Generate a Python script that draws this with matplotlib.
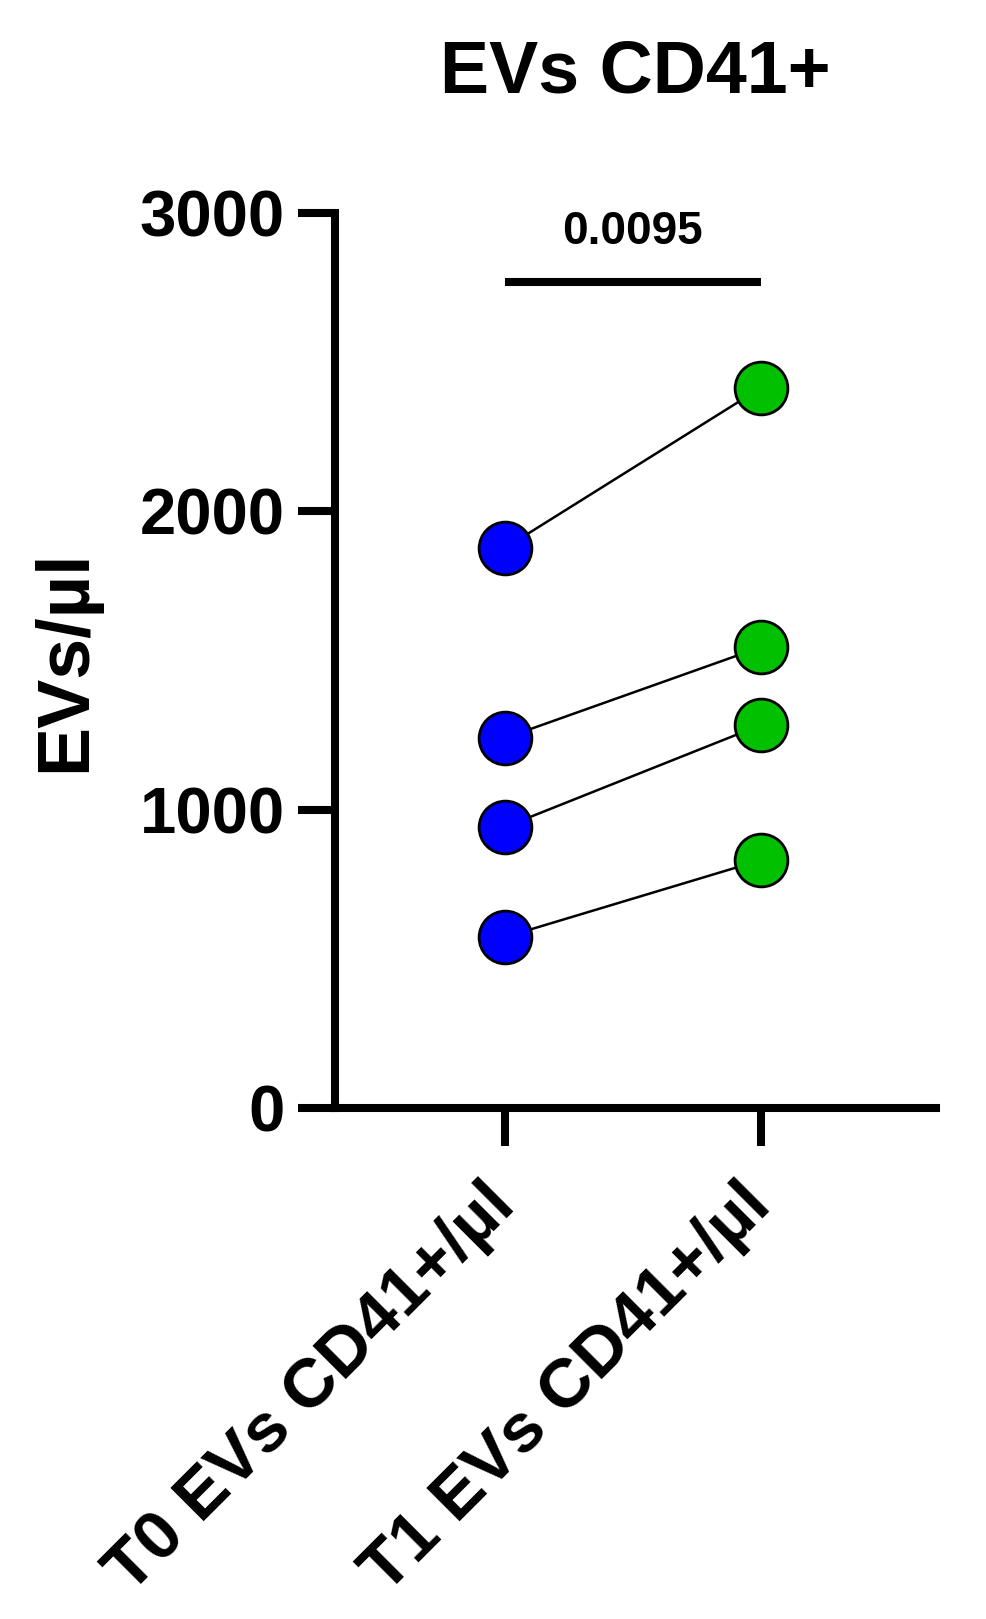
import matplotlib
matplotlib.use("Agg")
import matplotlib.pyplot as plt

plt.rcParams['font.family'] = ['Liberation Sans', 'DejaVu Sans']

# data
groups = ["T0 EVs CD41+/µl", "T1 EVs CD41+/µl"]
t0_vals = [1877, 1240, 942, 573]
t1_vals = [2414, 1545, 1284, 831]
p_value = "0.0095"
y_ticks = [0, 1000, 2000, 3000]

fig = plt.figure(figsize=(9.87, 16.19), dpi=100)
ax = fig.add_axes([0.3394, 0.3156, 0.6089, 0.5528])

for a, b in zip(t0_vals, t1_vals):
    ax.plot([0, 1], [a, b], color='black', lw=1.8, zorder=2)
ax.plot([0] * len(t0_vals), t0_vals, 'o', ms=38, mfc='#0000FF', mec='black', mew=2.0, zorder=3, clip_on=False)
ax.plot([1] * len(t1_vals), t1_vals, 'o', ms=38, mfc='#00C000', mec='black', mew=2.0, zorder=3, clip_on=False)

# significance bar
ax.plot([0, 1], [2770, 2770], color='black', lw=5.8, solid_capstyle='butt', clip_on=False)
ax.text(0.5, 2935, p_value, ha='center', va='center', fontsize=33, fontweight='bold')

ax.set_xlim(-0.664, 1.684)
ax.set_ylim(0, 3000)
ax.set_yticks(y_ticks)
ax.set_yticklabels([str(v) for v in y_ticks], fontsize=47, fontweight='bold')
ax.set_xticks([0, 1])
ax.set_xticklabels(groups, fontsize=50, fontweight='bold', rotation=45,
                   ha='right', va='center', rotation_mode='anchor')

for s in ['top', 'right']:
    ax.spines[s].set_visible(False)
for s in ['left', 'bottom']:
    ax.spines[s].set_linewidth(5.8)
ax.tick_params(axis='both', width=5.8, length=27, direction='out')
ax.tick_params(axis='y', pad=9)
ax.tick_params(axis='x', pad=36)

ax.set_ylabel("EVs/µl", fontsize=53, fontweight='bold')
ax.yaxis.set_label_coords(-0.39, 0.5)

fig.text(0.6434, 0.955, "EVs CD41+", ha='center', va='center', fontsize=53, fontweight='bold')

fig.savefig("out.png", dpi=100)
